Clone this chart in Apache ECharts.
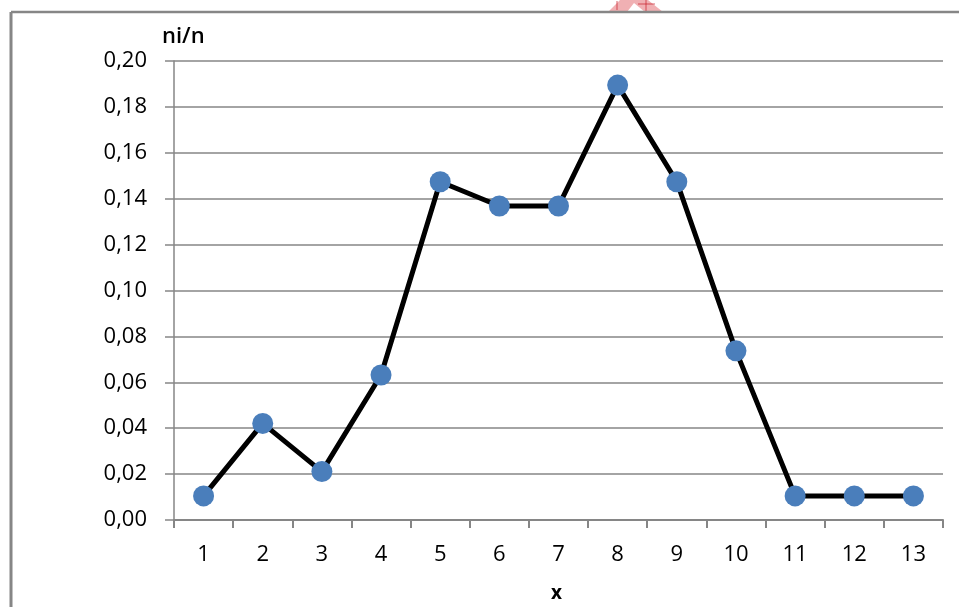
<!DOCTYPE html>
<html>
<head>
<meta charset="utf-8">
<script src="https://cdn.jsdelivr.net/npm/echarts@6/dist/echarts.min.js"></script>
<style>
  html, body { margin: 0; padding: 0; background: #fff; }
  #chart { width: 959px; height: 607px; }
</style>
</head>
<body>
<div id="chart"></div>
<script>
// Relative frequencies n_i/n for each value of x (n = 95)
const categories = ['1', '2', '3', '4', '5', '6', '7', '8', '9', '10', '11', '12', '13'];
const frequencies = [0.0105, 0.0421, 0.0211, 0.0632, 0.1474, 0.1368, 0.1368, 0.1895, 0.1474, 0.0737, 0.0105, 0.0105, 0.0105];
const yTicks = { min: 0, max: 0.2, interval: 0.02 };
const yTitle = 'ni/n';
const xTitle = 'x';

const chart = echarts.init(document.getElementById('chart'), null, { renderer: 'canvas' });
const font = '"Open Sans", "Noto Sans", sans-serif';
const gray = '#868686';

chart.setOption({
  backgroundColor: '#ffffff',
  animation: false,
  grid: { left: 174, top: 61, width: 769, height: 459, containLabel: false },
  xAxis: {
    type: 'category',
    data: categories,
    boundaryGap: true,
    axisLine: { lineStyle: { color: gray, width: 2 } },
    axisTick: { show: true, length: 8, lineStyle: { color: gray, width: 2 }, alignWithLabel: false },
    axisLabel: { color: '#000', fontFamily: font, fontSize: 22, margin: 24 },
    splitLine: { show: false }
  },
  yAxis: {
    type: 'value',
    min: yTicks.min,
    max: yTicks.max,
    interval: yTicks.interval,
    axisLine: { show: true, lineStyle: { color: gray, width: 1.5 } },
    axisTick: { show: true, length: 9, lineStyle: { color: gray, width: 1.5 } },
    axisLabel: {
      color: '#000', fontFamily: font, fontSize: 22, margin: 27,
      formatter: v => v.toFixed(2).replace('.', ',')
    },
    splitLine: { show: true, lineStyle: { color: gray, width: 1.5 } }
  },
  series: [{
    type: 'line',
    data: frequencies,
    symbol: 'circle',
    symbolSize: 21,
    lineStyle: { color: '#000', width: 5 },
    itemStyle: { color: '#4a7ebb' },
    z: 3
  }],
  graphic: [
    // outer frame, left and top edges
    { type: 'line', shape: { x1: 11, y1: 12, x2: 11, y2: 607 }, style: { stroke: gray, lineWidth: 3 }, z: 10 },
    { type: 'line', shape: { x1: 11, y1: 12, x2: 959, y2: 12 }, style: { stroke: gray, lineWidth: 2.5 }, z: 10 },
    // red stamp fragment at the top edge
    {
      type: 'polygon',
      shape: { points: [[608, 12], [620, 0], [648, 0], [663, 12], [645, 12], [634, 3], [627, 12]] },
      style: { fill: 'rgba(222, 80, 86, 0.45)' },
      z: 9
    },
    { type: 'line', shape: { x1: 617, y1: 1, x2: 617, y2: 10 }, style: { stroke: 'rgba(200,30,40,0.7)', lineWidth: 1 }, z: 9 },
    { type: 'line', shape: { x1: 646, y1: 0, x2: 646, y2: 12 }, style: { stroke: 'rgba(200,30,40,0.7)', lineWidth: 1 }, z: 9 },
    { type: 'line', shape: { x1: 638, y1: 4, x2: 655, y2: 4 }, style: { stroke: 'rgba(200,30,40,0.7)', lineWidth: 1 }, z: 9 },
    // axis titles
    {
      type: 'text', left: 162, top: 26,
      style: { text: yTitle, fill: '#000', font: '600 22px ' + font }
    },
    {
      type: 'text', left: 551, top: 584,
      style: { text: xTitle, fill: '#000', font: 'bold 19px ' + font }
    }
  ]
});
</script>
</body>
</html>
